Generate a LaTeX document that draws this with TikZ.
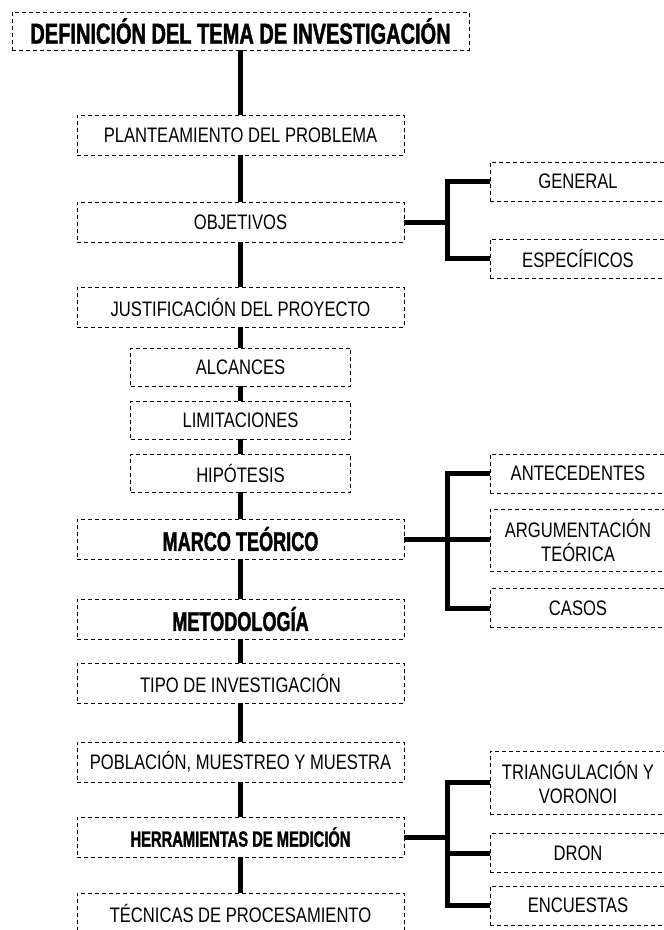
\documentclass[tikz,border=0pt]{standalone}
\usepackage{fontspec}
\setmainfont[FakeStretch=0.79]{Liberation Sans}
\newfontfamily\headfont[FakeStretch=0.67,BoldFeatures={FakeBold=1.4}]{Liberation Sans}
\newfontfamily\titlefont[FakeStretch=0.69,BoldFeatures={FakeBold=1.4}]{Liberation Sans}
\usetikzlibrary{positioning}

\begin{document}
\begin{tikzpicture}[x=1pt,y=-1pt]
  \tikzstyle{box} = [draw,dash pattern=on 4pt off 3pt,line width=.8pt,fill=white,inner sep=0pt,outer sep=0pt,align=center,font=\fontsize{21}{24}\selectfont];
  \tikzstyle{mainbox} = [box,minimum width=327pt,minimum height=40pt];
  \tikzstyle{smallbox} = [box,minimum width=220pt,minimum height=38pt];
  \tikzstyle{sidebox} = [box,minimum width=176pt,minimum height=39pt];
  \tikzstyle{head} = [font=\headfont\bfseries\fontsize{27}{30}\selectfont];
  \tikzstyle{spine} = [line width=5pt];
  \useasboundingbox (0,0) rectangle (664,930);
  \clip (0,0) rectangle (664,930);
  % main column
  \node[box,minimum width=457pt,minimum height=38pt,font=\titlefont\bfseries\fontsize{29}{32}\selectfont] (tema) at (240.5,31) {DEFINICIÓN DEL TEMA DE INVESTIGACIÓN};
  \node[mainbox,below=65pt of tema] (plant) {PLANTEAMIENTO DEL PROBLEMA};
  \node[mainbox,below=47pt of plant] (obj) {OBJETIVOS};
  \node[mainbox,below=45pt of obj] (just) {JUSTIFICACIÓN DEL PROYECTO};
  \node[smallbox,below=21pt of just] (alc) {ALCANCES};
  \node[smallbox,below=15pt of alc] (lim) {LIMITACIONES};
  \node[smallbox,below=15pt of lim] (hip) {HIPÓTESIS};
  \node[mainbox,head,below=27pt of hip] (marco) {MARCO TEÓRICO};
  \node[mainbox,head,below=40pt of marco] (metod) {METODOLOGÍA};
  \node[mainbox,below=24pt of metod] (tipo) {TIPO DE INVESTIGACIÓN};
  \node[mainbox,below=39pt of tipo] (pob) {POBLACIÓN, MUESTREO Y MUESTRA};
  \node[mainbox,below=35pt of pob,font=\headfont\bfseries\fontsize{22}{25}\selectfont] (herr) {HERRAMIENTAS DE MEDICIÓN};
  \node[mainbox,below=36pt of herr] (tec) {TÉCNICAS DE PROCESAMIENTO};
  % side boxes
  \node[sidebox] (gen) at (578,181.5) {GENERAL};
  \node[sidebox] (esp) at (578,258.5) {ESPECÍFICOS};
  \node[sidebox] (ante) at (578,473.5) {ANTECEDENTES};
  \node[sidebox,minimum height=62pt] (arg) at (578,540) {ARGUMENTACIÓN\\TEÓRICA};
  \node[sidebox] (casos) at (578,608) {CASOS};
  \node[sidebox,minimum height=63pt] (tri) at (578,782.5) {TRIANGULACIÓN Y\\VORONOI};
  \node[sidebox] (dron) at (578,853) {DRON};
  \node[sidebox] (enc) at (578,905.5) {ENCUESTAS};
  % spine
  \draw[spine] (tema) -- (plant);
  \draw[spine] (plant) -- (obj);
  \draw[spine] (obj) -- (just);
  \draw[spine] (just) -- (alc);
  \draw[spine] (alc) -- (lim);
  \draw[spine] (lim) -- (hip);
  \draw[spine] (hip) -- (marco);
  \draw[spine] (marco) -- (metod);
  \draw[spine] (metod) -- (tipo);
  \draw[spine] (tipo) -- (pob);
  \draw[spine] (pob) -- (herr);
  \draw[spine] (herr) -- (tec);
  % branches
  \draw[spine] (obj.east) -- ++(43,0) coordinate (objfork) |- (gen.west);
  \draw[spine] (objfork) |- (esp.west);
  \draw[spine] (marco.east) -- ++(43,0) coordinate (marcofork) |- (ante.west);
  \draw[spine] (marcofork) -- (marcofork -| arg.west);
  \draw[spine] (marcofork) |- (casos.west);
  \draw[spine] (herr.east) -- ++(43,0) coordinate (herrfork) |- (tri.west);
  \draw[spine] (herrfork) |- (dron.west);
  \draw[spine] (herrfork) |- (enc.west);
\end{tikzpicture}
\end{document}
